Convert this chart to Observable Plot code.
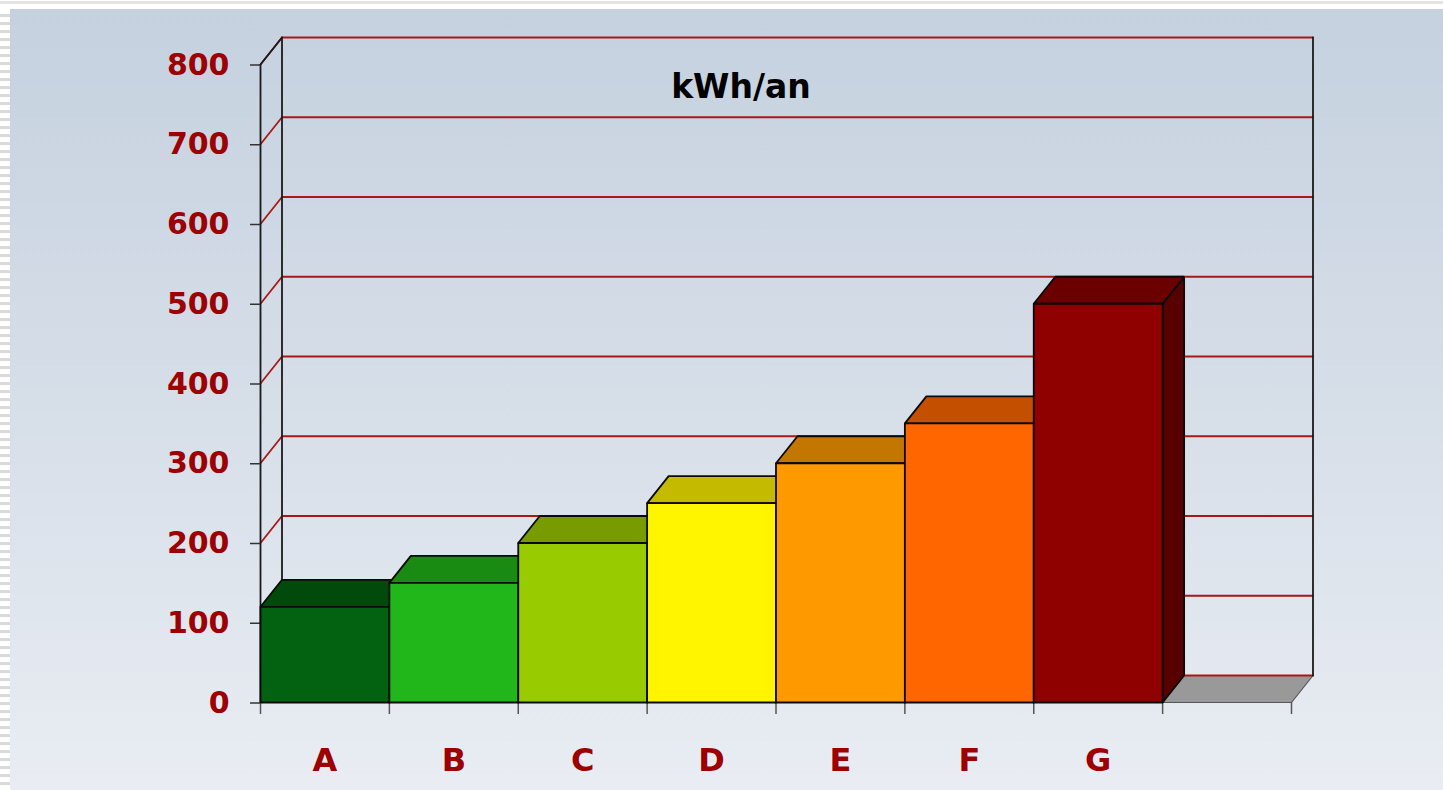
<!DOCTYPE html>
<html>
<head>
<meta charset="utf-8">
<script src="https://cdn.jsdelivr.net/npm/d3@7"></script>
<script src="https://cdn.jsdelivr.net/npm/@observablehq/plot@0.6"></script>
<style>
  html, body { margin: 0; padding: 0; background: #ffffff; }
  #page { position: relative; width: 1443px; height: 790px; overflow: hidden; background: #ffffff; }
  #topline { position: absolute; left: 0; top: 1px; width: 1443px; height: 3px; background: #e4e4e4; }
  #strip { position: absolute; left: 0; top: 9px; width: 10px; height: 781px;
    background: repeating-linear-gradient(to bottom, #ffffff 0px, #ffffff 5px, #dadada 5px, #dadada 8px); }
  #panel { position: absolute; left: 10px; top: 9px; width: 1433px; height: 781px;
    background: linear-gradient(to bottom, #c5d1df 0%, #d6dee8 50%, #e9edf3 100%); }
  #chart { position: absolute; left: 0; top: 0; }
</style>
</head>
<body>
<div id="page">
  <div id="topline"></div>
  <div id="strip"></div>
  <div id="panel"></div>
  <div id="chart"></div>
</div>
<script>
// ---- data ----
const categories = ["A", "B", "C", "D", "E", "F", "G"];
const values = [120, 150, 200, 250, 300, 350, 500];
const frontColors = ["#036212", "#21b619", "#99cc00", "#fff500", "#ff9900", "#ff6600", "#8f0000"];
const topColors   = ["#004a0c", "#1a8b12", "#789b00", "#c4bb00", "#c47700", "#c44f00", "#6a0000"];
const sideColors  = ["#003a09", "#13700d", "#5f7b00", "#a09900", "#a06000", "#a04000", "#580000"];
const yTicks = [0, 100, 200, 300, 400, 500, 600, 700, 800];
const title = "kWh/an";
const slots = categories.length + 1; // one empty slot at the end
const yMax = 800;

// ---- layout ----
const W = 1443, H = 790;
const mL = 260, mR = 152, mT = 64, mB = 88;
const depthPx = [21.5, 27]; // oblique depth offset in pixels
const ddx = depthPx[0] / ((W - mL - mR) / slots);
const ddy = depthPx[1] / ((H - mT - mB) / yMax);

const red = "#9c0000";
const gridRed = "#a81818";
const font = "'DejaVu Sans', Verdana, sans-serif";

// floor polygon
const floor = [
  {x: 0, y: 0}, {x: slots, y: 0}, {x: slots + ddx, y: ddy}, {x: ddx, y: ddy}, {x: 0, y: 0}
];

// grid lines on left wall + back wall
const grid = yTicks.flatMap(v => [
  {v, x: 0, y: v}, {v, x: ddx, y: v + ddy}, {v, x: slots + ddx, y: v + ddy}
]);

// frame edges (black)
const edges = [
  {id: "bl", x: ddx, y: ddy}, {id: "bl", x: ddx, y: yMax + ddy},
  {id: "br", x: slots + ddx, y: ddy}, {id: "br", x: slots + ddx, y: yMax + ddy},
  {id: "tl", x: 0, y: yMax}, {id: "tl", x: ddx, y: yMax + ddy}
];

// bar faces (painter's order: sides, tops, fronts)
const faces = [];
categories.forEach((c, i) => {
  const v = values[i];
  const side = [[i + 1, 0], [i + 1 + ddx, ddy], [i + 1 + ddx, v + ddy], [i + 1, v], [i + 1, 0]];
  side.forEach(([x, y]) => faces.push({id: c + "-side", x, y, fill: sideColors[i]}));
});
categories.forEach((c, i) => {
  const v = values[i];
  const top = [[i, v], [i + 1, v], [i + 1 + ddx, v + ddy], [i + ddx, v + ddy], [i, v]];
  top.forEach(([x, y]) => faces.push({id: c + "-top", x, y, fill: topColors[i]}));
});
categories.forEach((c, i) => {
  const v = values[i];
  const front = [[i, 0], [i + 1, 0], [i + 1, v], [i, v], [i, 0]];
  front.forEach(([x, y]) => faces.push({id: c + "-front", x, y, fill: frontColors[i]}));
});

const xBoundaries = d3.range(0, slots + 1);
const xCenters = categories.map((c, i) => i + 0.5);

const chart = Plot.plot({
  width: W,
  height: H,
  marginLeft: mL,
  marginRight: mR,
  marginTop: mT,
  marginBottom: mB,
  style: {background: "transparent", fontFamily: font, overflow: "visible"},
  x: {domain: [0, slots]},
  y: {domain: [0, yMax]},
  color: {type: "identity"},
  marks: [
    Plot.line(floor, {x: "x", y: "y", fill: "#999999", stroke: "#555555", strokeWidth: 1.2}),
    Plot.line(grid, {x: "x", y: "y", z: "v", stroke: gridRed, strokeWidth: 1.8}),
    Plot.line(edges, {x: "x", y: "y", z: "id", stroke: "#1a1a1a", strokeWidth: 1.8}),
    Plot.ruleX([0], {y1: 0, y2: yMax, stroke: "#1a1a1a", strokeWidth: 1.8}),
    Plot.axisY({ticks: yTicks, tickSize: 10, tickPadding: 21, tickFormat: d => String(d),
      fontSize: 30, fontWeight: "bold", fill: red, stroke: "#333", strokeWidth: 1.5, dy: 0.5, label: null}),
    Plot.axisX({ticks: xBoundaries, tickSize: 12, tickFormat: () => "", stroke: "#555", strokeWidth: 1.5, label: null}),
    Plot.axisX({ticks: xCenters, tickSize: 0, tickPadding: 46, tickFormat: d => categories[Math.floor(d)],
      fontSize: 32, fontWeight: "bold", fill: red, label: null}),
    Plot.line(faces, {x: "x", y: "y", z: "id", fill: "fill", stroke: "#0a0a0a", strokeWidth: 1.8, strokeLinejoin: "miter"}),
    Plot.text([title], {frameAnchor: "top", dx: -35, dy: 10, text: d => d, fontSize: 33, fontWeight: "bold", fill: "#000"})
  ]
});

document.getElementById("chart").appendChild(chart);
</script>
</body>
</html>
